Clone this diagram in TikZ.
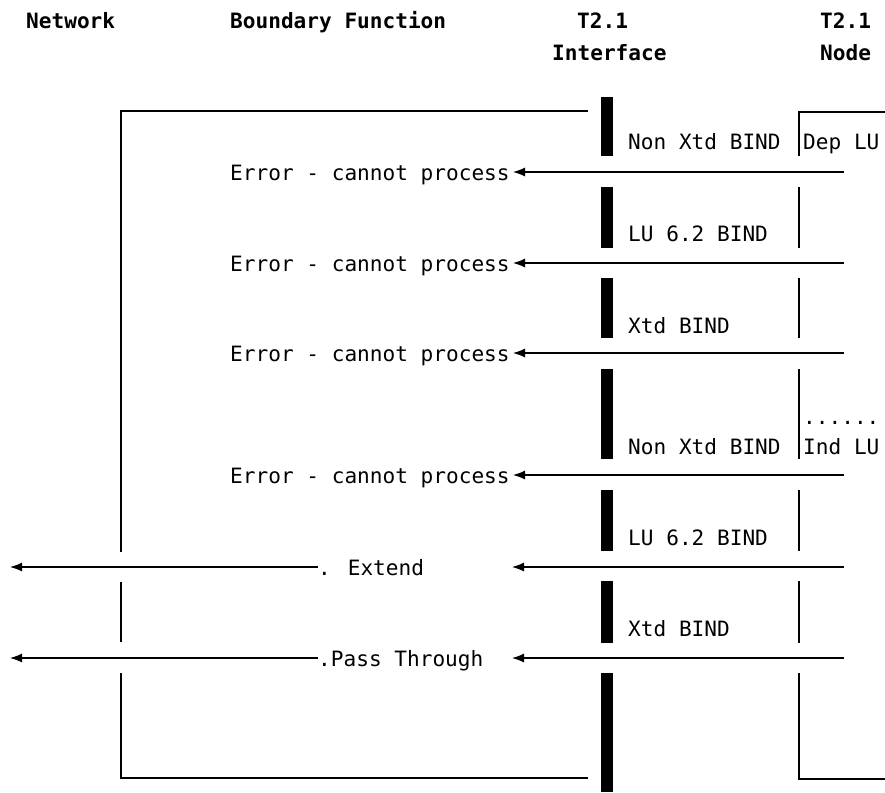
\documentclass[tikz,border=0pt]{standalone}
\usepackage{fontspec}
\newfontfamily\monof{DejaVu Sans Mono}
\usetikzlibrary{arrows.meta}
\begin{document}
\begin{tikzpicture}[x=1pt,y=-1pt,
  txt/.style={inner sep=0pt, anchor=base west, font={\monof\fontsize{21.1}{25}\selectfont}},
  head/.style={inner sep=0pt, anchor=base west, font={\monof\bfseries\fontsize{21.1}{25}\selectfont}},
  ln/.style={line width=1.2pt},
  arr/.style={line width=1.2pt, -{Latex[length=12pt,width=9pt]}},
  barfill/.style={fill=black}]
\useasboundingbox (0,0) rectangle (885,792);

% headings
\node[head] (hnet) at (26,29) {Network};
\node[head] (hbf) at (230,29) {Boundary Function};
\node[head] (hif1) at (577,29) {T2.1};
\node[head] (hif2) at (552,60) {Interface};
\node[head] (hnd1) at (820,29) {T2.1};
\node[head] (hnd2) at (820,60) {Node};

% boundary function box
\draw[ln] (588,111) -- (121,111) -- (121,552);
\draw[ln] (121,582) -- (121,642);
\draw[ln] (121,673) -- (121,778) -- (588,778);

% T2.1 interface bar
\foreach \a/\b in {97/156,187/248,278/338,369/459,490/551,581/643,673/792}
  \fill[barfill] (601,\a) rectangle (613,\b);

% T2.1 node box
\draw[ln] (885,112) -- (799,112) -- (799,156);
\foreach \a/\b in {187/248,278/338,369/459,490/551,581/643}
  \draw[ln] (799,\a) -- (799,\b);
\draw[ln] (799,673) -- (799,779) -- (885,779);

% BIND labels
\node[txt] (b1) at (628,149) {Non Xtd BIND};
\node[txt] (dep) at (803,149) {Dep LU};
\node[txt] (b2) at (628,241) {LU 6.2 BIND};
\node[txt] (b3) at (628,333) {Xtd BIND};
\node[txt] (dots) at (803,424) {......};
\node[txt] (b4) at (628,454) {Non Xtd BIND};
\node[txt] (ind) at (803,454) {Ind LU};
\node[txt] (b5) at (628,545) {LU 6.2 BIND};
\node[txt] (b6) at (628,636) {Xtd BIND};

% error responses
\foreach \i/\y in {1/172,2/263,3/353,4/475}{
  \node[txt] (e\i) at (230,\y+8) {Error - cannot process};
  \coordinate (es\i) at (844,\y);
  \coordinate (et\i) at (513,\y);
  \draw[arr] (es\i) -- (et\i);
}

% extend
\node[txt] (ext) at (318,575) {. Extend};
\coordinate (xs) at (844,567);
\coordinate (xt) at (512,567);
\coordinate (xl) at (318,567);
\coordinate (xn) at (10,567);
\draw[arr] (xs) -- (xt);
\draw[arr] (xl) -- (xn);

% pass through
\node[txt] (pt) at (318,666) {.Pass Through};
\coordinate (ps) at (844,658);
\coordinate (ptt) at (512,658);
\coordinate (pl) at (318,658);
\coordinate (pn) at (10,658);
\draw[arr] (ps) -- (ptt);
\draw[arr] (pl) -- (pn);
\end{tikzpicture}
\end{document}
